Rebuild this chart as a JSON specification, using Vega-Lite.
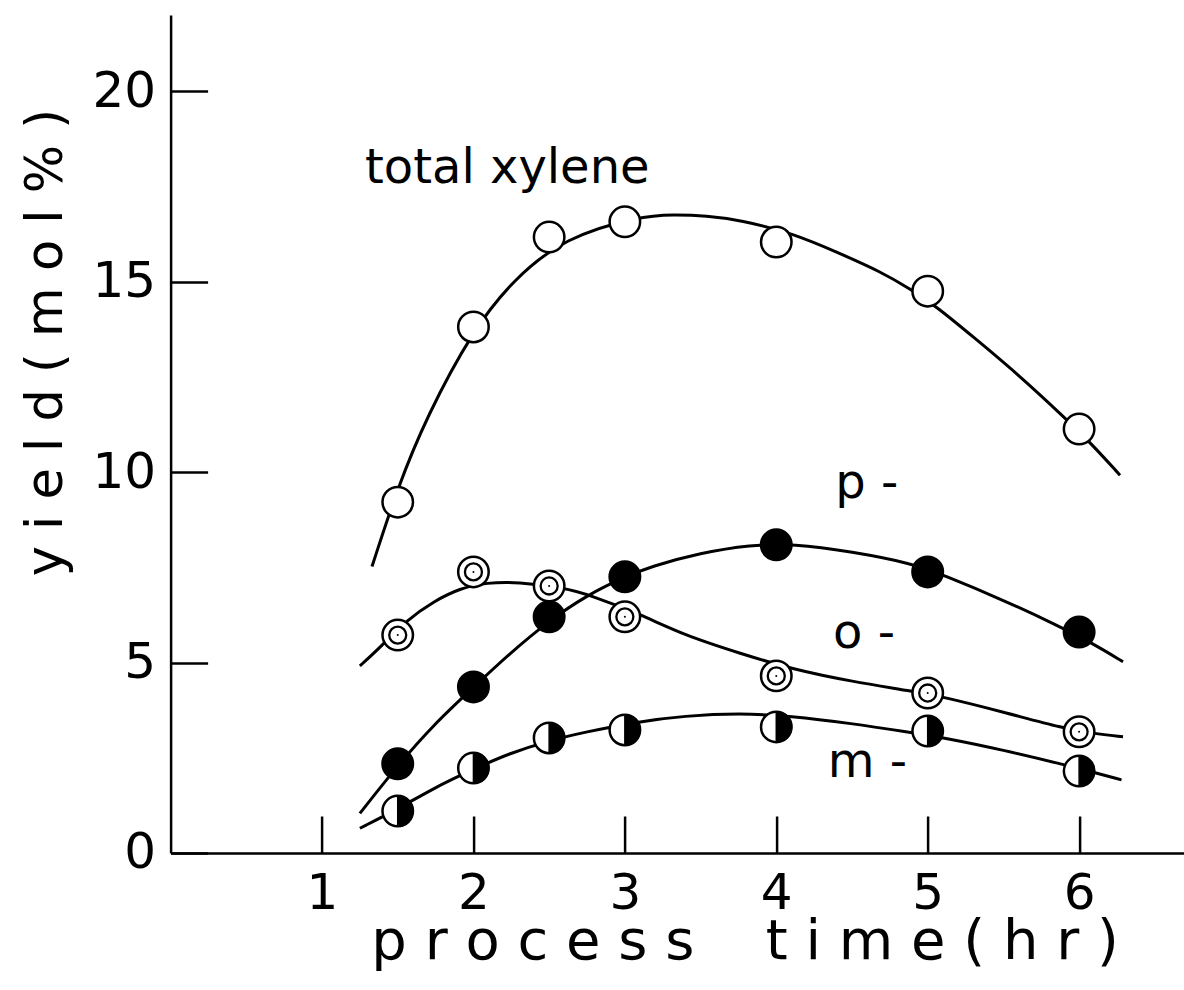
{
  "$schema": "https://vega.github.io/schema/vega-lite/v6.json",
  "width": 1013,
  "height": 838,
  "autosize": {"type": "none"},
  "padding": {"left": 170.6, "top": 15, "right": 0, "bottom": 137},
  "background": "white",
  "config": {"view": {"stroke": null}, "font": "DejaVu Sans"},
  "datasets": {
    "curves": [
      {"series": "total", "time": 1.33, "yield": 7.52},
      {"series": "total", "time": 1.5, "yield": 9.6},
      {"series": "total", "time": 1.69, "yield": 11.45},
      {"series": "total", "time": 2.0, "yield": 13.75},
      {"series": "total", "time": 2.26, "yield": 15.04},
      {"series": "total", "time": 2.6, "yield": 16.16},
      {"series": "total", "time": 3.1, "yield": 16.72},
      {"series": "total", "time": 3.32, "yield": 16.76},
      {"series": "total", "time": 3.54, "yield": 16.73},
      {"series": "total", "time": 3.76, "yield": 16.62},
      {"series": "total", "time": 4.11, "yield": 16.27},
      {"series": "total", "time": 4.42, "yield": 15.74},
      {"series": "total", "time": 4.69, "yield": 15.26},
      {"series": "total", "time": 4.88, "yield": 14.82},
      {"series": "total", "time": 5.06, "yield": 14.34},
      {"series": "total", "time": 5.3, "yield": 13.55},
      {"series": "total", "time": 5.59, "yield": 12.59},
      {"series": "total", "time": 5.91, "yield": 11.41},
      {"series": "total", "time": 6.08, "yield": 10.75},
      {"series": "total", "time": 6.27, "yield": 9.92},
      {"series": "p", "time": 1.25, "yield": 1.04},
      {"series": "p", "time": 1.5, "yield": 2.3},
      {"series": "p", "time": 1.735, "yield": 3.36},
      {"series": "p", "time": 2.0, "yield": 4.35},
      {"series": "p", "time": 2.24, "yield": 5.24},
      {"series": "p", "time": 2.5, "yield": 6.1},
      {"series": "p", "time": 2.75, "yield": 6.77},
      {"series": "p", "time": 3.0, "yield": 7.25},
      {"series": "p", "time": 3.17, "yield": 7.52},
      {"series": "p", "time": 3.5, "yield": 7.88},
      {"series": "p", "time": 3.83, "yield": 8.09},
      {"series": "p", "time": 4.11, "yield": 8.12},
      {"series": "p", "time": 4.5, "yield": 7.91},
      {"series": "p", "time": 4.9, "yield": 7.6},
      {"series": "p", "time": 5.1, "yield": 7.3},
      {"series": "p", "time": 5.5, "yield": 6.64},
      {"series": "p", "time": 5.85, "yield": 5.99},
      {"series": "p", "time": 6.09, "yield": 5.5},
      {"series": "p", "time": 6.29, "yield": 5.02},
      {"series": "o", "time": 1.25, "yield": 4.91},
      {"series": "o", "time": 1.39, "yield": 5.42},
      {"series": "o", "time": 1.56, "yield": 6.12},
      {"series": "o", "time": 1.735, "yield": 6.6},
      {"series": "o", "time": 1.91, "yield": 6.95},
      {"series": "o", "time": 2.09, "yield": 7.1},
      {"series": "o", "time": 2.29, "yield": 7.12},
      {"series": "o", "time": 2.6, "yield": 6.96},
      {"series": "o", "time": 2.77, "yield": 6.77},
      {"series": "o", "time": 3.1, "yield": 6.27},
      {"series": "o", "time": 3.39, "yield": 5.72},
      {"series": "o", "time": 3.76, "yield": 5.24},
      {"series": "o", "time": 4.11, "yield": 4.82},
      {"series": "o", "time": 4.5, "yield": 4.5},
      {"series": "o", "time": 4.9, "yield": 4.25},
      {"series": "o", "time": 5.1, "yield": 4.1},
      {"series": "o", "time": 5.5, "yield": 3.7},
      {"series": "o", "time": 5.9, "yield": 3.27},
      {"series": "o", "time": 6.09, "yield": 3.14},
      {"series": "o", "time": 6.29, "yield": 3.05},
      {"series": "m", "time": 1.25, "yield": 0.65},
      {"series": "m", "time": 1.5, "yield": 1.15},
      {"series": "m", "time": 1.735, "yield": 1.7},
      {"series": "m", "time": 2.0, "yield": 2.2},
      {"series": "m", "time": 2.24, "yield": 2.62},
      {"series": "m", "time": 2.5, "yield": 2.95},
      {"series": "m", "time": 2.73, "yield": 3.17},
      {"series": "m", "time": 3.09, "yield": 3.45},
      {"series": "m", "time": 3.39, "yield": 3.6},
      {"series": "m", "time": 3.76, "yield": 3.67},
      {"series": "m", "time": 4.09, "yield": 3.6},
      {"series": "m", "time": 4.5, "yield": 3.4},
      {"series": "m", "time": 4.86, "yield": 3.18},
      {"series": "m", "time": 5.13, "yield": 3.01},
      {"series": "m", "time": 5.5, "yield": 2.7},
      {"series": "m", "time": 5.87, "yield": 2.35},
      {"series": "m", "time": 6.12, "yield": 2.09},
      {"series": "m", "time": 6.28, "yield": 1.92}
    ],
    "points": [
      {"series": "total", "time": 1.5, "yield": 9.21},
      {"series": "total", "time": 2, "yield": 13.81},
      {"series": "total", "time": 2.5, "yield": 16.17},
      {"series": "total", "time": 3, "yield": 16.57},
      {"series": "total", "time": 4, "yield": 16.04},
      {"series": "total", "time": 5, "yield": 14.75},
      {"series": "total", "time": 6, "yield": 11.13},
      {"series": "p", "time": 1.5, "yield": 2.34},
      {"series": "p", "time": 2, "yield": 4.36},
      {"series": "p", "time": 2.5, "yield": 6.2},
      {"series": "p", "time": 3, "yield": 7.25},
      {"series": "p", "time": 4, "yield": 8.09},
      {"series": "p", "time": 5, "yield": 7.38},
      {"series": "p", "time": 6, "yield": 5.8},
      {"series": "o", "time": 1.5, "yield": 5.72},
      {"series": "o", "time": 2, "yield": 7.38},
      {"series": "o", "time": 2.5, "yield": 7.01},
      {"series": "o", "time": 3, "yield": 6.2},
      {"series": "o", "time": 4, "yield": 4.65},
      {"series": "o", "time": 5, "yield": 4.2},
      {"series": "o", "time": 6, "yield": 3.18},
      {"series": "m", "time": 1.5, "yield": 1.1},
      {"series": "m", "time": 2, "yield": 2.23},
      {"series": "m", "time": 2.5, "yield": 3.02},
      {"series": "m", "time": 3, "yield": 3.23},
      {"series": "m", "time": 4, "yield": 3.31},
      {"series": "m", "time": 5, "yield": 3.2},
      {"series": "m", "time": 6, "yield": 2.15}
    ],
    "labels": [
      {"label": "total xylene", "time": 1.284, "yield": 17.59},
      {"label": "p -", "time": 4.39, "yield": 9.32},
      {"label": "o -", "time": 4.375, "yield": 5.38},
      {"label": "m -", "time": 4.34, "yield": 2.0}
    ]
  },
  "layer": [
    {
      "data": {"name": "curves"},
      "mark": {"type": "line", "interpolate": "basis", "color": "black", "strokeWidth": 3},
      "encoding": {
        "x": {
          "field": "time", "type": "quantitative",
          "scale": {"domain": [0, 6.69], "nice": false, "zero": false},
          "axis": {
            "title": "p r o c e s s \u00a0 \u00a0t i m e ( h r )",
            "values": [1, 2, 3, 4, 5, 6],
            "format": "d",
            "grid": false,
            "tickSize": -37, "tickWidth": 2.5, "tickColor": "black",
            "domainColor": "black", "domainWidth": 2.5,
            "labelFont": "DejaVu Sans", "labelFontSize": 50, "labelColor": "black",
            "labelPadding": 53, "labelFlush": false,
            "titleFont": "DejaVu Sans", "titleFontSize": 56, "titleFontWeight": "normal", "titleColor": "black",
            "titleX": 574, "titleY": 106, "titleAlign": "center", "titleBaseline": "alphabetic"
          }
        },
        "y": {
          "field": "yield", "type": "quantitative",
          "scale": {"domain": [0, 22], "nice": false, "zero": false},
          "axis": {
            "title": "y i e l d ( m o l % )",
            "values": [0, 5, 10, 15, 20],
            "format": "d",
            "grid": false,
            "tickSize": -37, "tickWidth": 2.5, "tickColor": "black",
            "domainColor": "black", "domainWidth": 2.5,
            "labelFont": "DejaVu Sans", "labelFontSize": 50, "labelColor": "black",
            "labelPadding": 52, "labelFlush": false,
            "titleFont": "DejaVu Sans", "titleFontSize": 51, "titleFontWeight": "normal", "titleColor": "black",
            "titleAngle": -90, "titleX": -108.6, "titleY": 327, "titleAlign": "center", "titleBaseline": "alphabetic"
          }
        },
        "detail": {"field": "series"}
      }
    },
    {
      "data": {"name": "points"},
      "transform": [{"filter": "datum.series === 'total'"}],
      "mark": {"type": "point", "shape": "circle", "size": 930, "fill": "white", "fillOpacity": 1, "stroke": "black", "strokeWidth": 2.5, "opacity": 1},
      "encoding": {"x": {"field": "time", "type": "quantitative"}, "y": {"field": "yield", "type": "quantitative"}}
    },
    {
      "data": {"name": "points"},
      "transform": [{"filter": "datum.series === 'p'"}],
      "mark": {"type": "point", "shape": "circle", "size": 930, "fill": "black", "fillOpacity": 1, "stroke": "black", "strokeWidth": 2.5, "opacity": 1},
      "encoding": {"x": {"field": "time", "type": "quantitative"}, "y": {"field": "yield", "type": "quantitative"}}
    },
    {
      "data": {"name": "points"},
      "transform": [{"filter": "datum.series === 'o'"}],
      "mark": {"type": "point", "shape": "circle", "size": 930, "fill": "white", "fillOpacity": 1, "stroke": "black", "strokeWidth": 2.5, "opacity": 1},
      "encoding": {"x": {"field": "time", "type": "quantitative"}, "y": {"field": "yield", "type": "quantitative"}}
    },
    {
      "data": {"name": "points"},
      "transform": [{"filter": "datum.series === 'o'"}],
      "mark": {"type": "point", "shape": "circle", "size": 290, "fill": "white", "fillOpacity": 1, "stroke": "black", "strokeWidth": 2.3, "opacity": 1},
      "encoding": {"x": {"field": "time", "type": "quantitative"}, "y": {"field": "yield", "type": "quantitative"}}
    },
    {
      "data": {"name": "points"},
      "transform": [{"filter": "datum.series === 'o'"}],
      "mark": {"type": "point", "shape": "circle", "size": 4, "fill": "black", "fillOpacity": 1, "strokeWidth": 0, "opacity": 1},
      "encoding": {"x": {"field": "time", "type": "quantitative"}, "y": {"field": "yield", "type": "quantitative"}}
    },
    {
      "data": {"name": "points"},
      "transform": [{"filter": "datum.series === 'm'"}],
      "mark": {"type": "point", "shape": "circle", "size": 930, "fill": "white", "fillOpacity": 1, "stroke": "black", "strokeWidth": 2.5, "opacity": 1},
      "encoding": {"x": {"field": "time", "type": "quantitative"}, "y": {"field": "yield", "type": "quantitative"}}
    },
    {
      "data": {"name": "points"},
      "transform": [{"filter": "datum.series === 'm'"}],
      "mark": {"type": "point", "shape": "M0,-1A1,1 0 0,1 0,1Z", "size": 930, "fill": "black", "fillOpacity": 1, "stroke": "black", "strokeWidth": 1.5, "opacity": 1},
      "encoding": {"x": {"field": "time", "type": "quantitative"}, "y": {"field": "yield", "type": "quantitative"}}
    },
    {
      "data": {"name": "labels"},
      "mark": {"type": "text", "align": "left", "baseline": "alphabetic", "font": "DejaVu Sans", "fontSize": 48, "color": "black"},
      "encoding": {
        "x": {"field": "time", "type": "quantitative"},
        "y": {"field": "yield", "type": "quantitative"},
        "text": {"field": "label"}
      }
    }
  ]
}
